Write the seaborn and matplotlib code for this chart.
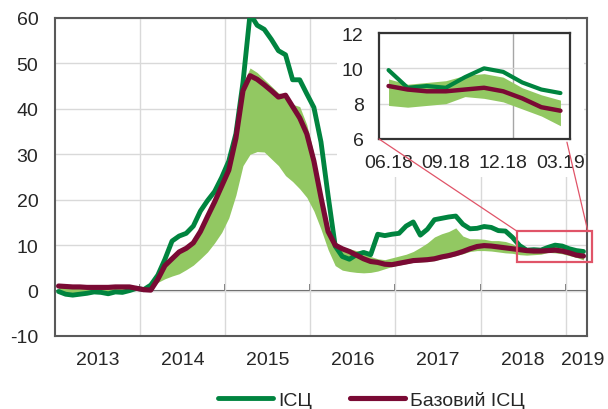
import matplotlib
matplotlib.use('Agg')
import matplotlib.pyplot as plt
from matplotlib.patches import Rectangle, ConnectionPatch
import numpy as np
import pandas as pd
import seaborn as sns

sns.set_style('white')
plt.rcParams['font.family'] = ['Liberation Sans', 'DejaVu Sans']
plt.rcParams['font.size'] = 14
plt.rcParams['axes.unicode_minus'] = False

# data (y/y, %), monthly from 01.2013 to 03.2019
years = ['2013', '2014', '2015', '2016', '2017', '2018', '2019']
cpi = [-0.2, -0.8, -1.0, -0.8, -0.6, -0.3, -0.4, -0.7, -0.3, -0.4, 0.0, 0.5,
       0.2, 1.2, 3.4, 6.9, 10.9, 12.0, 12.6, 14.2, 17.5, 19.8, 21.8, 24.9,
       28.5, 34.5, 45.8, 60.9, 58.4, 57.5, 55.3, 52.8, 51.9, 46.4, 46.4, 43.3,
       40.3, 32.7, 20.9, 9.8, 7.5, 6.9, 7.9, 8.4, 7.9, 12.4, 12.1, 12.4,
       12.6, 14.2, 15.1, 12.2, 13.5, 15.6, 15.9, 16.2, 16.4, 14.6, 13.6, 13.7,
       14.1, 13.9, 13.2, 13.1, 11.7, 9.9, 8.9, 9.0, 8.9, 9.5, 10.0, 9.8,
       9.2, 8.8, 8.6]
core = [1.0, 0.9, 0.8, 0.8, 0.7, 0.7, 0.7, 0.7, 0.8, 0.8, 0.8, 0.5,
        0.2, 0.1, 2.5, 5.5, 7.0, 8.5, 9.3, 10.5, 13.0, 16.3, 19.5, 23.0,
        26.5, 33.5, 44.0, 47.3, 46.5, 45.3, 44.0, 42.6, 43.0, 40.5, 38.0, 34.5,
        28.5, 20.5, 13.0, 10.0, 9.2, 8.6, 7.8, 7.0, 6.4, 6.2, 5.8, 5.7,
        6.0, 6.3, 6.6, 6.7, 6.8, 7.0, 7.4, 7.7, 8.1, 8.6, 9.2, 9.7,
        9.9, 9.8, 9.6, 9.4, 9.2, 9.0, 8.8, 8.7, 8.7, 8.8, 8.9, 8.7,
        8.3, 7.8, 7.6]
band_low = [-0.3, -0.6, -0.7, -0.6, -0.4, -0.2, -0.2, -0.4, -0.1, -0.1, 0.1, 0.2,
            0.0, 0.5, 1.8, 2.6, 3.2, 3.7, 4.6, 5.6, 7.0, 8.5, 10.5, 12.8,
            16.0, 21.0, 27.5, 30.0, 30.6, 30.5, 29.0, 27.5, 25.3, 24.0, 22.4, 20.5,
            17.5, 13.5, 9.0, 5.5, 4.5, 4.2, 4.0, 3.9, 4.0, 4.3, 4.8, 5.3,
            5.6, 5.9, 6.2, 6.3, 6.4, 6.6, 7.0, 7.3, 7.7, 8.1, 8.6, 8.8,
            8.8, 8.7, 8.5, 8.3, 8.2, 7.9, 7.8, 7.9, 8.0, 8.4, 8.3, 8.1,
            7.7, 7.3, 6.75]
band_high = [0.8, 0.7, 0.7, 0.6, 0.6, 0.6, 0.5, 0.5, 0.6, 0.6, 0.6, 0.4,
             0.2, 0.6, 2.8, 5.8, 7.4, 8.9, 9.8, 11.0, 13.5, 16.7, 19.9, 23.4,
             27.0, 34.0, 45.5, 49.0, 48.0, 46.5, 45.0, 43.5, 43.2, 41.0, 40.5, 36.5,
             30.0, 22.0, 14.0, 10.8, 9.6, 9.2, 8.8, 8.5, 7.5, 7.0, 6.8, 7.2,
             7.6, 8.0, 8.6, 9.5, 10.5, 11.8, 12.5, 13.0, 13.8, 12.0, 11.4, 11.4,
             11.3, 11.0, 11.0, 10.8, 10.3, 9.4, 9.1, 9.2, 9.3, 9.6, 9.7, 9.5,
             8.9, 8.5, 8.2]
zoom_labels = ['06.18', '09.18', '12.18', '03.19']
zoom_start = 65  # 06.2018

df = pd.DataFrame({'m': np.arange(len(cpi)), 'cpi': cpi, 'core': core,
                   'lo': band_low, 'hi': band_high})

GREEN = '#00843F'
MAROON = '#7A0A34'
BAND = '#92C862'
GRID = '#D9D9D9'
FRAME = '#595959'
PINK = '#E05468'

fig = plt.figure(figsize=(6.08, 4.10), dpi=100)

# main chart
ax = fig.add_axes([55/608, 1-337/410, 532/608, 318/410])
ax.fill_between(df['m'], df['lo'], df['hi'], color=BAND, lw=0, zorder=1)
sns.lineplot(data=df, x='m', y='cpi', color=GREEN, lw=3.5, ax=ax, label='ІСЦ', zorder=3)
sns.lineplot(data=df, x='m', y='core', color=MAROON, lw=3.7, ax=ax, label='Базовий ІСЦ', zorder=4)

n = len(cpi)
ax.set_xlim(-0.5, n - 0.5)
ax.set_ylim(-10, 60)
ax.set_yticks(range(-10, 61, 10))
bounds = np.arange(11.5, n, 12)
ax.set_xticks(bounds)
ax.set_xticklabels([])
year_pos = [5.5, 17.5, 29.5, 41.5, 53.5, 65.5, 73.9]
ax.set_xticks(year_pos, minor=True)
ax.set_xticklabels(years, minor=True)
ax.tick_params(axis='x', which='both', length=0, pad=11)
ax.tick_params(axis='y', length=0, pad=12)
ax.set_xlabel('')
ax.set_ylabel('')
ax.set_axisbelow(True)
ax.grid(True, which='major', color=GRID, lw=1)
for s in ax.spines.values():
    s.set_color(FRAME)
    s.set_linewidth(1.5)

# zero line with year ticks
sec = ax.secondary_xaxis(1/7)
sec.set_xticks(bounds)
sec.tick_params(direction='in', length=5, width=1.2, color=FRAME, labelbottom=False)
sec.spines['bottom'].set_color(FRAME)
sec.spines['bottom'].set_linewidth(1.5)

# highlight box
ax.add_patch(Rectangle((64.6, 6.3), 10.6, 6.8, fill=False, edgecolor=PINK,
                       lw=1.6, clip_on=False, zorder=6))

ax.legend(loc='center', bbox_to_anchor=(0.611, 0.022), bbox_transform=fig.transFigure,
          ncol=2, frameon=False, handlelength=2.85, handletextpad=0.26,
          columnspacing=1.95, fontsize=14, borderpad=0)

# white background behind the inset
fig.add_artist(Rectangle((337/608, 1-178/410), (584-337)/608, (178-21)/410,
                         transform=fig.transFigure, facecolor='white',
                         edgecolor='none', zorder=1))

# inset
sub = df.iloc[zoom_start:].copy()
sub['k'] = np.arange(len(sub))
ax_in = fig.add_axes([379/608, 1-140/410, 191/608, 106/410], zorder=2)
ax_in.fill_between(sub['k'], sub['lo'], sub['hi'], color=BAND, lw=0, zorder=1)
sns.lineplot(data=sub, x='k', y='cpi', color=GREEN, lw=3.0, ax=ax_in, zorder=3)
sns.lineplot(data=sub, x='k', y='core', color=MAROON, lw=3.2, ax=ax_in, zorder=4)
ax_in.set_xlim(-0.5, len(sub) - 0.5)
ax_in.set_ylim(6, 12)
ax_in.set_yticks([6, 8, 10, 12])
ax_in.set_xticks([0, 3, 6, 9])
ax_in.set_xticklabels(zoom_labels)
ax_in.set_xticks([6.5], minor=True)
ax_in.tick_params(axis='both', which='major', length=0, pad=11)
ax_in.tick_params(axis='x', which='minor', direction='in', length=4, color='#404040')
ax_in.set_xlabel('')
ax_in.set_ylabel('')
ax_in.set_axisbelow(True)
ax_in.grid(True, axis='y', which='major', color=GRID, lw=1)
ax_in.grid(True, axis='x', which='minor', color='#A6A6A6', lw=1)
for s in ax_in.spines.values():
    s.set_color('#333333')
    s.set_linewidth(1.6)

# connectors
for xa, xb in [((0, 0), (64.6, 13.1)), ((0.984, -0.03), (74.6, 13.2))]:
    con = ConnectionPatch(xyA=xa, coordsA=ax_in.transAxes, xyB=xb, coordsB=ax.transData,
                          color=PINK, lw=0.9, zorder=3)
    fig.add_artist(con)

fig.savefig('out.png', dpi=100)
